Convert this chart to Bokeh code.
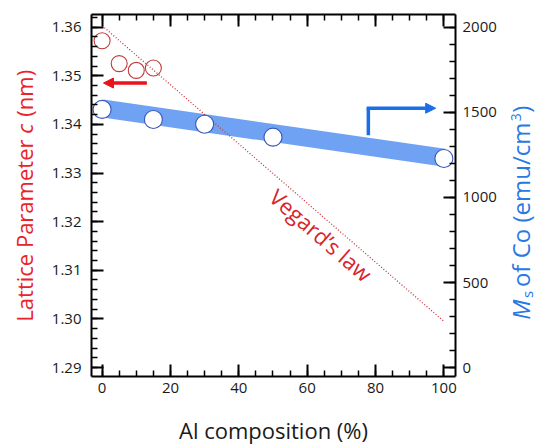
from bokeh.plotting import figure
from bokeh.layouts import row
from bokeh.models import (Range1d, LinearAxis, SingleIntervalTicker, PrintfTickFormatter,
                          CustomJSTickFormatter, Label, Arrow, NormalHead)
from bokeh.embed import file_html
from bokeh.resources import INLINE

# ---------------- data ----------------
al_c = [0, 5, 10, 15]
lattice_c = [1.3572, 1.3525, 1.3511, 1.3516]

al_ms = [0, 15, 30, 50, 100]
ms_co = [1517, 1458, 1430, 1354, 1229]

fit_al = [0, 100]
fit_ms = [1523, 1234]

vegard_al = [0, 100]
vegard_c = [1.3603, 1.2995]

x_range = (-3.1, 103.4)
c_range = (1.28815, 1.3626)
ms_range = (-51.4, 2074.3)

FONT = "Open Sans"
RED = "#e8232a"
BLUE = "#2a78e4"
H = 447
WL, WM, WR = 40, 465, 32
BT, BB = 14, 70

p = figure(width=WM, height=H, output_backend="svg", toolbar_location=None,
           x_range=Range1d(*x_range), y_range=Range1d(*c_range),
           min_border_left=51, min_border_right=50, min_border_top=BT, min_border_bottom=BB,
           x_axis_location=None, y_axis_location=None)
p.extra_y_ranges = {"ms": Range1d(*ms_range)}
p.xgrid.visible = False
p.ygrid.visible = False
p.outline_line_color = None
p.background_fill_color = "white"
p.border_fill_color = "white"


def style(ax, labels=True):
    ax.axis_line_width = 2
    ax.axis_line_color = "black"
    ax.major_tick_in = 12
    ax.major_tick_out = 0
    ax.minor_tick_in = 6
    ax.minor_tick_out = 0
    ax.major_tick_line_width = 2
    ax.minor_tick_line_width = 1.5
    ax.major_label_text_font = FONT
    ax.major_label_text_font_size = "15px"
    ax.major_label_text_color = "#1a1a1a"
    if not labels:
        ax.formatter = CustomJSTickFormatter(code="return ''")
        ax.major_label_text_font_size = "0px"
        ax.major_label_standoff = 0


xb = LinearAxis(ticker=SingleIntervalTicker(interval=20, num_minor_ticks=4))
style(xb)
xb.major_label_standoff = 6
xb.axis_label = "Al composition (%)"
xb.axis_label_text_font = FONT
xb.axis_label_text_font_size = "22px"
xb.axis_label_text_font_style = "normal"
xb.axis_label_text_color = "#1a1a1a"
xb.axis_label_standoff = 19
p.add_layout(xb, "below")

xt = LinearAxis(ticker=SingleIntervalTicker(interval=20, num_minor_ticks=4))
style(xt, labels=False)
p.add_layout(xt, "above")

yl = LinearAxis(ticker=SingleIntervalTicker(interval=0.01, num_minor_ticks=5),
                formatter=PrintfTickFormatter(format="%.2f"))
style(yl)
yl.major_label_standoff = 10
p.add_layout(yl, "left")

yr = LinearAxis(y_range_name="ms", ticker=SingleIntervalTicker(interval=500, num_minor_ticks=5))
style(yr)
yr.major_label_standoff = 7
p.add_layout(yr, "right")

# blue band (linear fit of Ms)
p.line(fit_al, fit_ms, y_range_name="ms", line_width=18, line_color="#6fa2f2", line_cap="butt")

# Vegard's law
p.line(vegard_al, vegard_c, line_color="#c8343c", line_width=1.3, line_dash="1 2")

# red open circles (lattice parameter)
p.scatter(al_c, lattice_c, size=16, marker="circle", fill_color=None,
          line_color="#c0393b", line_width=1.1)

# blue-edged white circles (Ms)
p.scatter(al_ms, ms_co, y_range_name="ms", size=18, marker="circle", fill_color="white",
          line_color="#3b55b8", line_width=1.1)

# arrows
p.add_layout(Arrow(x_start=13.1, y_start=1.3485, x_end=0.4, y_end=1.3485,
                   line_color="#e8141a", line_width=3.5,
                   end=NormalHead(size=10, fill_color="#e8141a", line_color="#e8141a")))
p.segment(x0=[77.9], y0=[1365], x1=[77.9], y1=[1524], y_range_name="ms",
          line_color="#1a6ee8", line_width=3.5)
p.add_layout(Arrow(x_start=77.4, y_start=1524, x_end=97.6, y_end=1524, y_range_name="ms",
                   line_color="#1a6ee8", line_width=3.5,
                   end=NormalHead(size=10, fill_color="#1a6ee8", line_color="#1a6ee8")))

# Vegard's law text
p.add_layout(Label(x=64.1, y=1.3173, text="Vegard’s law", angle=-41.1, angle_units="deg",
                   text_align="center", text_baseline="middle", text_font=FONT,
                   text_font_size="22px", text_color="#d8252c"))


def side_fig(w):
    # frame spans the same vertical extent as the main frame; y data == page pixel row
    f = figure(width=w, height=H, output_backend="svg", toolbar_location=None,
               x_range=Range1d(0, w), y_range=Range1d(H - BB, BT),
               min_border_left=0, min_border_right=0, min_border_top=BT, min_border_bottom=BB,
               x_axis_location=None, y_axis_location=None)
    f.xgrid.visible = False
    f.ygrid.visible = False
    f.outline_line_color = None
    f.background_fill_color = "white"
    f.border_fill_color = "white"
    return f


# left axis label: Lattice Parameter c (nm)
pl = side_fig(WL)
LFS = 22
sp_l = 0.26 * LFS
w1 = 8.537 * LFS          # "Lattice Parameter " incl. trailing space
w2 = 0.476 * LFS          # italic "c"
for txt, off, st in [("Lattice Parameter", 0, "normal"), ("c", w1, "italic"),
                     ("(nm)", w1 + w2 + sp_l + 1, "normal")]:
    pl.add_layout(Label(x=23.2, y=322, y_offset=off, text=txt, angle=90, angle_units="deg",
                        text_align="left", text_baseline="middle", text_font=FONT,
                        text_font_size=f"{LFS}px", text_font_style=st, text_color=RED))

# right axis label: Ms of Co (emu/cm3)
pr = side_fig(WR)
RFS = 24
SFS = 15
PFS = 14
sp_r = 0.26 * RFS
wM = 0.903 * RFS
ws = 0.477 * SFS
wmid = 6.87 * RFS         # "of Co (emu/cm"
w3 = 0.572 * PFS
pieces = [("M", 0, 0, RFS, "italic"),
          ("s", wM, 6.5, SFS, "normal"),
          ("of Co (emu/cm", wM + ws + sp_r * 0.6, 0, RFS, "normal"),
          ("3", wM + ws + sp_r * 0.6 + wmid + 1, -5.0, PFS, "normal"),
          (")", wM + ws + sp_r * 0.6 + wmid + w3 + 1.5, 0, RFS, "normal")]
for txt, off, xo, fs, st in pieces:
    pr.add_layout(Label(x=15.0, y=320, y_offset=off, x_offset=xo, text=txt, angle=90,
                        angle_units="deg", text_align="left", text_baseline="middle",
                        text_font=FONT, text_font_size=f"{fs}px", text_font_style=st,
                        text_color=BLUE))

layout = row(pl, p, pr, spacing=0)
open("out.html", "w").write(file_html(layout, INLINE))
